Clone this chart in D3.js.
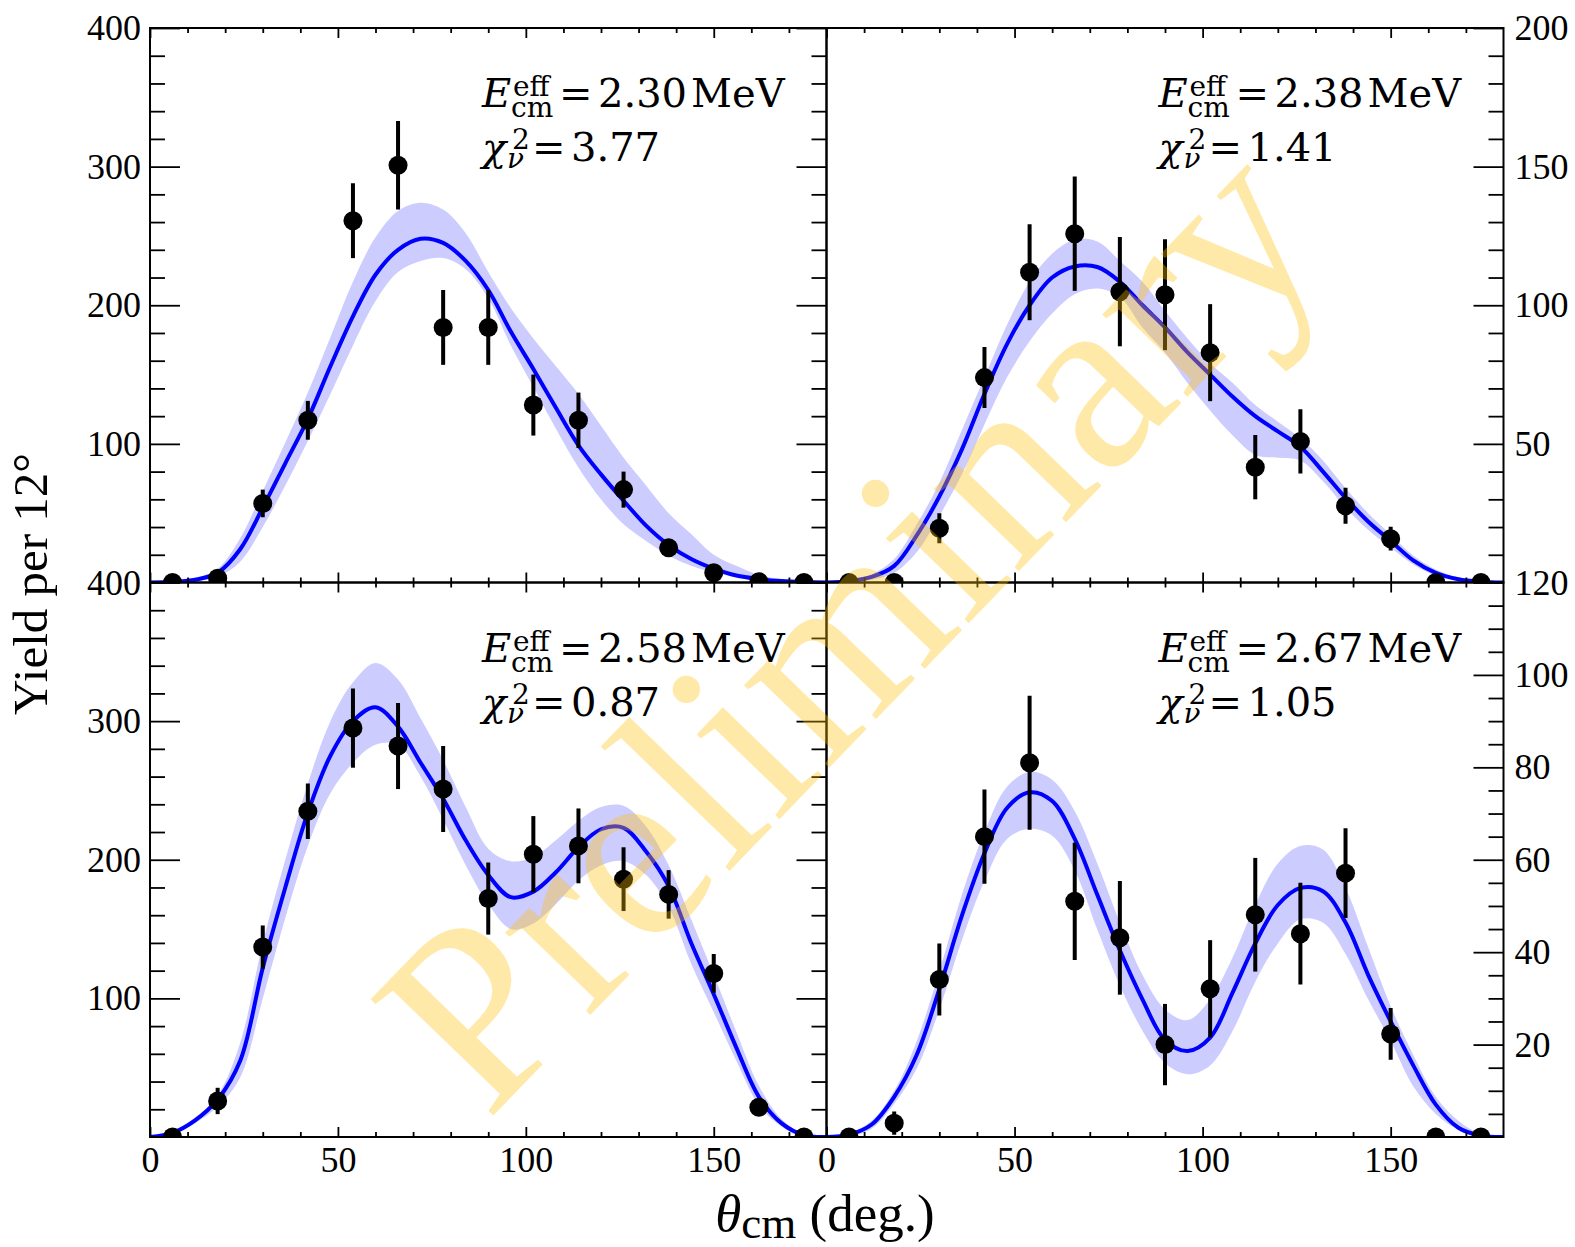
<!DOCTYPE html>
<html><head><meta charset="utf-8">
<script src="https://cdn.jsdelivr.net/npm/d3@7"></script>
<style>body{margin:0;background:#fff;} svg{display:block;}</style>
</head><body>
<svg id="chart" width="1575" height="1247"></svg>
<script>
// ---------------- DATA ----------------
const binAngles = [6,18,30,42,54,66,78,90,102,114,126,138,150,162,174];

const yield230 = [0,3,57,117,261,301,184,184,128,117,67,25,7,0.5,0];
const err230   = [0,2,10,14,27,32,27,27,22,20,13,4,2,0,0];
const yield238 = [0,0,19.6,73.9,111.9,125.8,104.9,103.8,82.9,41.6,50.9,27.7,15.8,0,0];
const err238   = [0,0,5.4,11,17.3,20.6,19.7,20,17.5,11.6,11.6,6.5,4.3,0,0];
const yield258 = [0,26,137,235,295,282,251,172,204,210,186,175,118,21.5,0];
const err258   = [0,9.5,15.6,20,28.6,31,31,26,27.5,27,23,17.5,14,6,0];
const yield267 = [0,3,34.1,65,81,51,43.1,20,32.1,48.1,44,57.1,22.3,0,0];
const err267   = [0,2.5,7.8,10.2,14.5,12.7,12.3,8.8,10.5,12.3,11,9.7,5.6,0,0];

const fitAngles = [0,6,12,18,24,30,36,42,48,54,60,66,72,78,84,90,96,102,108,114,120,126,132,138,144,150,156,162,168,174,180];

const fit230 = [0,0.5,2,7,24,54,86,118,156,192,222,240,248,245,232,211,181,154,126,99,78,59,41,27,17,10,5,2.5,1,0.3,0];
const hi230  = [0,0.8,3,10,32,66,101,137,177,217,249,268,274,269,252,224,198,176,156,136,113,90,70,50,35,20,12,5.5,2.5,1,0];
const lo230  = [0,0.2,1,4,15,40,70,102,136,171,203,224,232,234,226,205,171,141,111,83,60,42,30,19.5,12,7,4,2,1,0.3,0];

const fit238 = [0,0.5,2,6,17,31,48,68,86,100,110,114,113.8,108.5,100,92,83,75,67,60,54.5,49,40,30.5,22,15,8,3.5,1.2,0.3,0];
const hi238  = [0,0.8,3,8.5,21,36,55,74,93,108.5,118.6,123.7,123,116,108.5,98,88,79,72,64,58,52,44,34,25,17.3,9.7,4.7,1.9,0.6,0];
const lo238  = [0,0.2,1,3.5,11,24,39,57,74,87,97,104,106,103,92,83,72,62,53,46,45,44,36.5,27,19,12.5,6.5,2.5,0.9,0.25,0];

const fit258 = [0,3,12,27,55,122,180,234,275,300,310,296,270,244,214,189,173,177,191,209,222,223,206,181,140,103,64.5,29,10,1.3,0];
const hi258  = [0,4,14,30,68,140,200,255,300,328,342,330,302,272,238,208,199,202,214,228,238,239,224,196,157,117,76,37,13,2.5,0];
const lo258  = [0,2,10,22,43,100,158,210,248,270,283,283,260,229,196,168,150,154,168,185,196,199,189,166,125,90,55,23,7.5,0.5,0];

const fit267 = [0,0.5,2.7,8.7,17.8,32,47.9,61.4,71.2,74.6,72.7,64.5,52.4,40.4,29.8,21,18.6,21.5,31.3,41.9,50.2,53.9,53.2,46.4,35.1,25,15.5,7,2,0.3,0];
const hi267  = [0,0.8,3.5,10,20.8,35.8,52.4,66,75.8,79,77.3,70.5,59.2,46.4,35.1,27.6,25.3,29.8,38.9,50.2,59.2,63,62.2,53.9,41.1,28.3,17.8,8.7,3.5,0.6,0];
const lo267  = [0,0.2,1.8,7.2,14.8,27.6,42.6,55.4,64.5,66.7,65.2,57.7,44.9,32.8,23,16,13.6,15.5,23,33.6,41.9,47.1,46.4,39.6,29.8,20.8,11,5,1.6,0.2,0];

const energyLabels = ["2.30","2.38","2.58","2.67"];
const chi2Labels   = ["3.77","1.41","0.87","1.05"];

const yMaxes       = [400,200,400,120];
const yMajorTL = [100,200,300,400], yMajorTR = [50,100,150,200], yMajorBL = [100,200,300,400], yMajorBR = [20,40,60,80,100,120];
const yMinorStep   = [20,10,20,5];
const xMajor = [0,50,100,150];
const xMinor = [10,20,30,40,60,70,80,90,110,120,130,140,160,170];

// ---------------- LAYOUT ----------------
const L=150, M=826.5, R=1503.5, T=28, MY=582.5, B=1137;
const panels = [
  {x:L, y:T,  w:M-L, h:MY-T, yMax:yMaxes[0], major:yMajorTL, minorStep:yMinorStep[0], side:"left",  bottom:false, val:yield230, err:err230, fit:fit230, hi:hi230, lo:lo230, E:energyLabels[0], chi:chi2Labels[0]},
  {x:M, y:T,  w:R-M, h:MY-T, yMax:yMaxes[1], major:yMajorTR, minorStep:yMinorStep[1], side:"right", bottom:false, val:yield238, err:err238, fit:fit238, hi:hi238, lo:lo238, E:energyLabels[1], chi:chi2Labels[1]},
  {x:L, y:MY, w:M-L, h:B-MY, yMax:yMaxes[2], major:yMajorBL, minorStep:yMinorStep[2], side:"left",  bottom:true,  val:yield258, err:err258, fit:fit258, hi:hi258, lo:lo258, E:energyLabels[2], chi:chi2Labels[2]},
  {x:M, y:MY, w:R-M, h:B-MY, yMax:yMaxes[3], major:yMajorBR, minorStep:yMinorStep[3], side:"right", bottom:true,  val:yield267, err:err267, fit:fit267, hi:hi267, lo:lo267, E:energyLabels[3], chi:chi2Labels[3]},
];

const svg = d3.select("#chart");
svg.append("rect").attr("width",1575).attr("height",1247).attr("fill","#fff");
const defs = svg.append("defs");
const TICKFONT = "Liberation Serif";
const MATHFONT = "DejaVu Serif";
const smooth = d3.curveCatmullRom.alpha(0.5);

function styleAxis(g){
  g.select(".domain").remove();
  g.selectAll(".tick line").attr("stroke","#000").attr("stroke-width",1.8);
  g.attr("font-family",TICKFONT).attr("font-size",36);
  g.selectAll(".tick text").attr("fill","#000");
}

panels.forEach((p,i)=>{
  const g = svg.append("g").attr("transform",`translate(${p.x},${p.y})`);
  const x = d3.scaleLinear().domain([0,180]).range([0,p.w]);
  const y = d3.scaleLinear().domain([0,p.yMax]).range([p.h,0]);

  defs.append("clipPath").attr("id","clip"+i).append("rect").attr("width",p.w).attr("height",p.h);
  const plot = g.append("g").attr("clip-path",`url(#clip${i})`);

  const fitData = fitAngles.map((a,k)=>({a, f:p.fit[k], hi:p.hi[k], lo:p.lo[k]}));
  plot.append("path").datum(fitData)
    .attr("d", d3.area().x(d=>x(d.a)).y0(d=>y(d.lo)).y1(d=>y(d.hi)).curve(smooth))
    .attr("fill","#ccccff");
  plot.append("path").datum(fitData)
    .attr("d", d3.line().x(d=>x(d.a)).y(d=>y(d.f)).curve(smooth))
    .attr("fill","none").attr("stroke","#0000ff").attr("stroke-width",4);

  const pts = binAngles.map((a,k)=>({a, v:p.val[k], e:p.err[k]}));
  plot.selectAll("line.err").data(pts.filter(d=>d.e>0)).join("line").attr("class","err")
    .attr("x1",d=>x(d.a)).attr("x2",d=>x(d.a))
    .attr("y1",d=>y(d.v-d.e)).attr("y2",d=>y(d.v+d.e))
    .attr("stroke","#000").attr("stroke-width",4);
  plot.selectAll("circle").data(pts).join("circle")
    .attr("cx",d=>x(d.a)).attr("cy",d=>y(d.v)).attr("r",9.5).attr("fill","#000");

  const minor = d3.range(p.minorStep, p.yMax, p.minorStep).filter(v=>!p.major.includes(v));
  if(p.side==="left"){
    g.append("g").call(d3.axisLeft(y).tickValues(p.major).tickSize(-30).tickPadding(9).tickFormat(d3.format("d"))).call(styleAxis);
    g.append("g").call(d3.axisLeft(y).tickValues(minor).tickSize(-15).tickFormat("")).call(styleAxis);
    g.append("g").attr("transform",`translate(${p.w},0)`).call(d3.axisRight(y).tickValues(p.major).tickSize(-30).tickFormat("")).call(styleAxis);
    g.append("g").attr("transform",`translate(${p.w},0)`).call(d3.axisRight(y).tickValues(minor).tickSize(-15).tickFormat("")).call(styleAxis);
  } else {
    g.append("g").attr("transform",`translate(${p.w},0)`).call(d3.axisRight(y).tickValues(p.major).tickSize(-30).tickPadding(11).tickFormat(d3.format("d"))).call(styleAxis);
    g.append("g").attr("transform",`translate(${p.w},0)`).call(d3.axisRight(y).tickValues(minor).tickSize(-15).tickFormat("")).call(styleAxis);
  }
  const bx = d3.axisBottom(x).tickValues(xMajor).tickSize(-10).tickPadding(9);
  if(!p.bottom) bx.tickFormat("");
  g.append("g").attr("transform",`translate(0,${p.h})`).call(bx).call(styleAxis);
  g.append("g").attr("transform",`translate(0,${p.h})`).call(d3.axisBottom(x).tickValues(xMinor).tickSize(-5).tickFormat("")).call(styleAxis);
  g.append("g").call(d3.axisTop(x).tickValues(xMajor).tickSize(-10).tickFormat("")).call(styleAxis);
  g.append("g").call(d3.axisTop(x).tickValues(xMinor).tickSize(-5).tickFormat("")).call(styleAxis);

  g.append("rect").attr("width",p.w).attr("height",p.h).attr("fill","none").attr("stroke","#000").attr("stroke-width",2);

  // annotation (E_cm^eff = ... MeV ; chi^2_nu = ...)
  const fs = 40, sfs = 28;
  const x0 = 332, b1 = 79, b2 = 133;
  const ann = g.append("g").attr("font-family",MATHFONT).attr("fill","#000");
  ann.append("text").attr("x",x0).attr("y",b1).attr("font-size",fs).attr("font-style","italic").text("E");
  ann.append("text").attr("x",x0+31).attr("y",b1-11).attr("font-size",sfs).text("eff");
  ann.append("text").attr("x",x0+29).attr("y",b1+10).attr("font-size",sfs).text("cm");
  ann.append("text").attr("x",x0+77).attr("y",b1).attr("font-size",fs).text("=");
  ann.append("text").attr("x",x0+116).attr("y",b1).attr("font-size",fs).text(p.E);
  ann.append("text").attr("x",x0+209).attr("y",b1).attr("font-size",fs).text("MeV");

  ann.append("text").attr("x",x0).attr("y",b2).attr("font-size",fs).attr("font-style","italic").text("χ");
  ann.append("text").attr("x",x0+30).attr("y",b2-12).attr("font-size",sfs).text("2");
  ann.append("text").attr("x",x0+25).attr("y",b2+7).attr("font-size",sfs).attr("font-style","italic").text("ν");
  ann.append("text").attr("x",x0+50).attr("y",b2).attr("font-size",fs).text("=");
  ann.append("text").attr("x",x0+89).attr("y",b2).attr("font-size",fs).text(p.chi);
});

// axis labels
svg.append("text").attr("transform","translate(47,584) rotate(-90)")
  .attr("text-anchor","middle").attr("font-family",TICKFONT).attr("font-size",49).attr("fill","#000")
  .text("Yield per 12°");

const xl = svg.append("text").attr("x",825).attr("y",1231).attr("text-anchor","middle")
  .attr("font-family",TICKFONT).attr("font-size",53).attr("fill","#000");
xl.append("tspan").attr("font-style","italic").text("θ");
xl.append("tspan").attr("font-size",45).attr("dy",7).text("cm");
xl.append("tspan").attr("dy",-7).text("\u00a0(deg.)");

// watermark
svg.append("text").attr("x",487).attr("y",1122)
  .attr("transform","rotate(-46,487,1122)")
  .attr("font-family",TICKFONT).attr("font-size",258)
  .attr("fill","#ffc107").attr("fill-opacity",0.35)
  .text("Preliminary");
</script>
</body></html>
